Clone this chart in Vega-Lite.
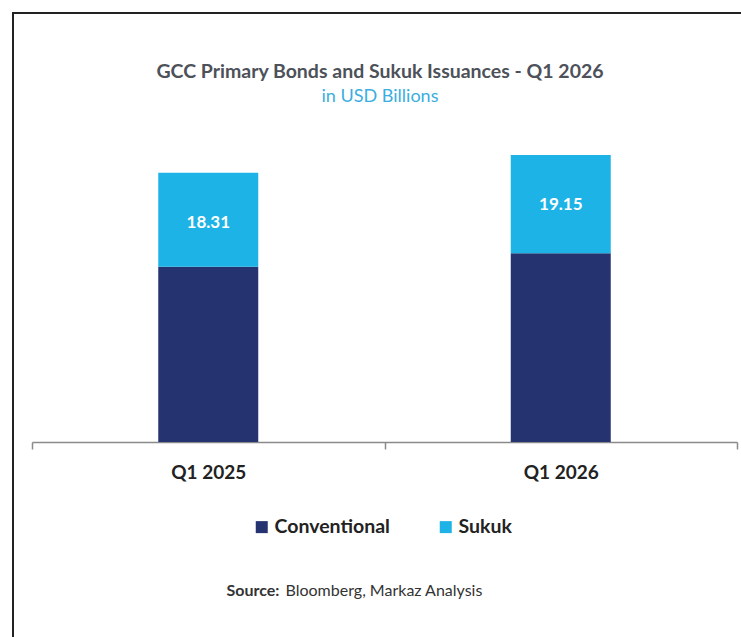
{
  "$schema": "https://vega.github.io/schema/vega-lite/v6.json",
  "autosize": "none",
  "width": 740,
  "height": 637,
  "padding": {"left": 13, "top": 13, "right": -12, "bottom": -13},
  "background": "white",
  "title": {
    "text": "GCC Primary Bonds and Sukuk Issuances - Q1 2026",
    "subtitle": "in USD Billions",
    "anchor": "middle",
    "frame": "group",
    "orient": "top",
    "offset": -94,
    "dx": -3,
    "font": "Lato",
    "fontSize": 19.5,
    "fontWeight": "bold",
    "color": "#4d5159",
    "subtitleFont": "Lato",
    "subtitleFontSize": 18,
    "subtitleColor": "#3aaee0",
    "subtitlePadding": 6
  },
  "data": {
    "values": [
      {"quarter": "Q1 2025", "type": "Conventional", "value": 34.15},
      {"quarter": "Q1 2025", "type": "Sukuk", "value": 18.31},
      {"quarter": "Q1 2026", "type": "Conventional", "value": 36.75},
      {"quarter": "Q1 2026", "type": "Sukuk", "value": 19.15}
    ]
  },
  "encoding": {
    "x": {
      "field": "quarter",
      "type": "nominal",
      "sort": ["Q1 2025", "Q1 2026"],
      "scale": {"range": [19, 724], "paddingInner": 0, "paddingOuter": 0},
      "axis": {
        "orient": "bottom",
        "offset": -208,
        "domainColor": "#8a8a8a",
        "domainWidth": 1.5,
        "tickBand": "extent",
        "tickColor": "#8a8a8a",
        "tickWidth": 1.5,
        "tickSize": 7,
        "grid": false,
        "labelAngle": 0,
        "labelFont": "Lato",
        "labelFontSize": 19,
        "labelFontWeight": "bold",
        "labelColor": "#222222",
        "labelPadding": 14,
        "title": "Bloomberg, Markaz Analysis",
        "titleFont": "Lato",
        "titleFontSize": 16,
        "titleFontWeight": "normal",
        "titleColor": "#333333",
        "titleAlign": "left",
        "titleBaseline": "alphabetic",
        "titleX": 272,
        "titleY": 153
      }
    },
    "y": {
      "field": "value",
      "type": "quantitative",
      "stack": "zero",
      "scale": {"domain": [0, 83.56], "range": [429, 0], "nice": false, "zero": true},
      "axis": {
        "labels": false,
        "ticks": false,
        "domain": false,
        "grid": false,
        "title": "Source:",
        "titleAngle": 0,
        "titleAlign": "left",
        "titleBaseline": "alphabetic",
        "titleX": 213,
        "titleY": 582,
        "titleFont": "Lato",
        "titleFontSize": 16,
        "titleFontWeight": "bold",
        "titleColor": "#333333"
      }
    },
    "order": {"field": "type"}
  },
  "layer": [
    {
      "mark": {"type": "bar", "width": 100},
      "encoding": {
        "color": {
          "field": "type",
          "type": "nominal",
          "scale": {"domain": ["Conventional", "Sukuk"], "range": ["#253371", "#1eb3e6"]},
          "legend": {
            "orient": "none",
            "legendX": 239,
            "legendY": 504,
            "direction": "horizontal",
            "title": null,
            "padding": 0,
            "symbolType": "square",
            "symbolSize": 144,
            "symbolStrokeWidth": 0,
            "symbolOpacity": 1,
            "labelFont": "Lato",
            "labelFontSize": 19.5,
            "labelFontWeight": "bold",
            "labelColor": "#222222",
            "labelOffset": 3,
            "columnPadding": 46
          }
        }
      }
    },
    {
      "mark": {"type": "text", "dy": 50, "baseline": "middle", "align": "center", "font": "Lato", "fontSize": 17, "fontWeight": "bold", "color": "white"},
      "encoding": {
        "detail": {"field": "type"},
        "text": {
          "condition": {"test": "datum.type === 'Sukuk'", "field": "value", "type": "quantitative", "format": ".2f"},
          "value": ""
        }
      }
    }
  ],
  "config": {
    "view": {"stroke": "#222222", "strokeWidth": 2},
    "font": "Lato"
  }
}
